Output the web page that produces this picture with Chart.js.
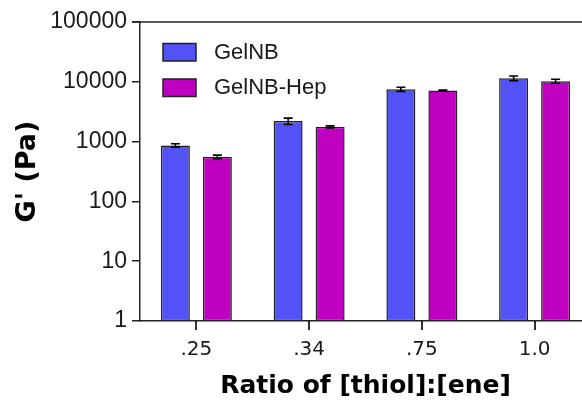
<!DOCTYPE html>
<html>
<head>
<meta charset="utf-8">
<script src="https://cdn.jsdelivr.net/npm/chart.js@4/dist/chart.umd.min.js"></script>
<style>
  html, body { margin: 0; padding: 0; background: #fff; overflow: hidden; }
  #wrap { width: 582px; height: 405px; overflow: hidden; }
  canvas { display: block; }
</style>
</head>
<body>
<div id="wrap"><canvas id="c" width="591" height="405"></canvas></div>
<script>
// Storage modulus of the two hydrogels at each thiol:ene ratio
const ratios = ['.25', '.34', '.75', '1.0'];
const gelnb = [863, 2200, 7520, 11480];
const gelnbErr = [56, 270, 600, 1000];
const gelnbHep = [556, 1765, 7160, 10230];
const gelnbHepErr = [37, 70, 120, 800];
const yTicks = [1, 10, 100, 1000, 10000, 100000];

const INK = '#1a1a1a';
const AXIS = '#222';

// symmetric error bars on each bar, in data units
const errorBars = {
  id: 'errorBars',
  afterDatasetsDraw(chart) {
    const ctx = chart.ctx;
    const y = chart.scales.y;
    ctx.save();
    ctx.strokeStyle = '#000';
    ctx.lineWidth = 1.6;
    chart.data.datasets.forEach((ds, i) => {
      const meta = chart.getDatasetMeta(i);
      meta.data.forEach((bar, j) => {
        const v = ds.data[j], e = ds.errors[j];
        const top = y.getPixelForValue(v + e);
        const bot = y.getPixelForValue(Math.max(v - e, 1));
        const x = bar.x, cap = 4.5;
        ctx.beginPath();
        ctx.moveTo(x, top); ctx.lineTo(x, bot);
        ctx.moveTo(x - cap, top); ctx.lineTo(x + cap, top);
        ctx.moveTo(x - cap, bot); ctx.lineTo(x + cap, bot);
        ctx.stroke();
      });
    });
    ctx.restore();
  }
};

// top frame line, tick marks at each group centre and in-plot legend
const frameAndLegend = {
  id: 'frameAndLegend',
  afterDraw(chart) {
    const ctx = chart.ctx;
    const a = chart.chartArea;
    const ys = chart.scales.y;
    ctx.save();
    ctx.strokeStyle = AXIS;
    ctx.lineWidth = 1.5;
    ctx.beginPath();
    ctx.moveTo(a.left - 8, a.top);
    ctx.lineTo(a.right, a.top);
    ctx.stroke();

    const base = ys.getPixelForValue(yTicks[0]);
    const m0 = chart.getDatasetMeta(0).data;
    const m1 = chart.getDatasetMeta(1).data;
    ctx.strokeStyle = '#000';
    ctx.lineWidth = 1.6;
    m0.forEach((bar, j) => {
      const px = Math.round((bar.x + m1[j].x) / 2);
      ctx.beginPath();
      ctx.moveTo(px, base);
      ctx.lineTo(px, base + 9);
      ctx.stroke();
    });

    ctx.font = '22px "Liberation Sans", Arial, sans-serif';
    ctx.textBaseline = 'middle';
    chart.data.datasets.forEach((ds, i) => {
      const bx = a.left + 23, by = a.top + 21.5 + i * 35.5;
      ctx.fillStyle = ds.backgroundColor;
      ctx.fillRect(bx, by, 33, 17.5);
      ctx.strokeStyle = AXIS;
      ctx.lineWidth = 1.5;
      ctx.strokeRect(bx, by, 33, 17.5);
      ctx.fillStyle = INK;
      ctx.fillText(ds.label, bx + 51, by + 9);
    });
    ctx.restore();
  }
};

new Chart(document.getElementById('c'), {
  type: 'bar',
  data: {
    labels: ratios,
    datasets: [
      { label: 'GelNB', data: gelnb, errors: gelnbErr,
        backgroundColor: '#5252F7', borderColor: AXIS, borderWidth: 1.5, borderSkipped: false },
      { label: 'GelNB-Hep', data: gelnbHep, errors: gelnbHepErr,
        backgroundColor: '#C000C0', borderColor: AXIS, borderWidth: 1.5, borderSkipped: false }
    ]
  },
  options: {
    responsive: false,
    animation: false,
    devicePixelRatio: 1,
    layout: { padding: { top: 22, left: 0, right: 0, bottom: 0 } },
    datasets: { bar: { categoryPercentage: 0.745, barPercentage: 0.69 } },
    plugins: { legend: { display: false }, tooltip: { enabled: false } },
    scales: {
      x: {
        grid: { drawOnChartArea: false, drawTicks: true, tickLength: 9, tickColor: 'rgba(0,0,0,0)' },
        border: { color: AXIS, width: 1.5 },
        ticks: { color: INK, padding: 8, font: { family: '"DejaVu Sans", sans-serif', size: 20 } },
        title: { display: true, text: 'Ratio of [thiol]:[ene]', color: '#000', padding: { top: 0 },
                 font: { family: '"DejaVu Sans", sans-serif', size: 25, weight: 'bold' } },
        afterFit(s) { s.height = 84; }
      },
      y: {
        type: 'logarithmic',
        min: 1,
        max: 100000,
        afterBuildTicks(s) { s.ticks = yTicks.map(v => ({ value: v })); },
        grid: { drawOnChartArea: false, drawTicks: true, tickLength: 8, color: AXIS, lineWidth: 1.5 },
        border: { color: AXIS, width: 1.5 },
        ticks: { color: INK, padding: 5, callback: v => String(v),
                 font: { family: '"Liberation Sans", Arial, sans-serif', size: 23 } },
        title: { display: true, text: "G' (Pa)", color: '#000', padding: { top: 12, bottom: 0 },
                 font: { family: '"DejaVu Sans", sans-serif', size: 27, weight: 'bold' } },
        afterFit(s) { s.width = 140; }
      }
    }
  },
  plugins: [errorBars, frameAndLegend]
});
</script>
</body>
</html>
